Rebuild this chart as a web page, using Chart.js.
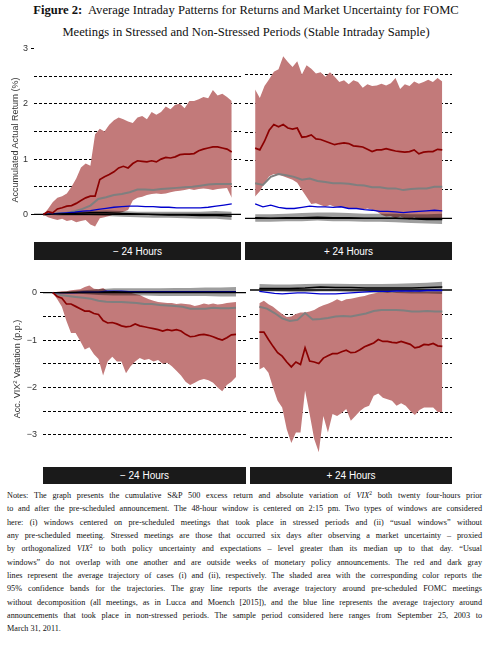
<!DOCTYPE html>
<html><head><meta charset="utf-8">
<script src="https://cdn.jsdelivr.net/npm/chart.js@4"></script>
<style>
html,body{margin:0;padding:0;background:#fff;}
body{width:492px;height:652px;position:relative;overflow:hidden;}
canvas{position:absolute;}
#title{position:absolute;left:0;top:-1px;width:492px;text-align:center;font-family:"Liberation Serif",serif;font-size:12.6px;line-height:22px;color:#111;}
.strip{position:absolute;background:#1a1a1a;color:#fff;font-family:"Liberation Sans",Arial,sans-serif;font-size:10px;display:flex;align-items:center;justify-content:center;}
.ytitle{position:absolute;font-family:"Liberation Sans",Arial,sans-serif;font-size:9px;color:#333;white-space:nowrap;transform:translate(-50%,-50%) rotate(-90deg);}
#notes{position:absolute;left:7px;top:489px;width:475px;font-family:"Liberation Serif",serif;font-size:8.2px;line-height:13.33px;height:13.33px;color:#111;}
#notes div{height:13.33px;text-align:justify;text-align-last:justify;white-space:nowrap;}
#notes div.last{text-align-last:left;}
.sq{font-size:5.5px;line-height:0;position:relative;top:-3px;vertical-align:baseline;}
</style>
</head><body>
<div id="title"><b>Figure 2:</b>&nbsp; Average Intraday Patterns for Returns and Market Uncertainty for FOMC<br>Meetings in Stressed and Non-Stressed Periods (Stable Intraday Sample)</div>

<canvas id="cUL" width="241" height="200" style="left:0;top:40px"></canvas>
<canvas id="cUR" width="207" height="200" style="left:245px;top:40px"></canvas>
<canvas id="cLL" width="246" height="197" style="left:0;top:270px"></canvas>
<canvas id="cLR" width="202" height="197" style="left:250px;top:270px"></canvas>

<div class="ytitle" style="left:15px;top:140px">Accumulated Actual Return (%)</div>
<div class="ytitle" style="left:17px;top:369px">Acc. VIX<span class="sq" style="font-size:6px">2</span> Variation (p.p.)</div>

<div class="strip" style="left:34px;top:242px;width:207px;height:18px">− 24 Hours</div>
<div class="strip" style="left:245px;top:242px;width:207px;height:18px">+ 24 Hours</div>
<div class="strip" style="left:43px;top:467px;width:203px;height:17px">− 24 Hours</div>
<div class="strip" style="left:250px;top:467px;width:202px;height:17px">+ 24 Hours</div>

<div id="notes">
<div>Notes: The graph presents the cumulative S&amp;P 500 excess return and absolute variation of <i>VIX</i><span class="sq">2</span> both twenty four-hours prior</div>
<div>to and after the pre-scheduled announcement. The 48-hour window is centered on 2:15 pm. Two types of windows are considered</div>
<div>here: (i) windows centered on pre-scheduled meetings that took place in stressed periods and (ii) “usual windows” without</div>
<div>any pre-scheduled meeting. Stressed meetings are those that occurred six days after observing a market uncertainty – proxied</div>
<div>by orthogonalized <i>VIX</i><span class="sq">2</span> to both policy uncertainty and expectations – level greater than its median up to that day. “Usual</div>
<div>windows” do not overlap with one another and are outside weeks of monetary policy announcements. The red and dark gray</div>
<div>lines represent the average trajectory of cases (i) and (ii), respectively. The shaded area with the corresponding color reports the</div>
<div>95% confidence bands for the trajectories. The gray line reports the average trajectory around pre-scheduled FOMC meetings</div>
<div>without decomposition (all meetings, as in Lucca and Moench [2015]), and the blue line represents the average trajectory around</div>
<div>announcements that took place in non-stressed periods. The sample period considered here ranges from September 25, 2003 to</div>
<div class="last">March 31, 2011.</div>
</div>

<script>
// ---------- x grids (hours relative to announcement) ----------
const hoursFinePre  = [-24,-23.4,-22.8,-22.2,-21.6,-21,-20.4,-19.8,-19.2,-18.6,-18,-17.4,-16.8,-16.2,-15.6,-15,-14.4,-13.8,-13.2,-12.6,-12,-11.4,-10.8,-10.2,-9.6,-9,-8.4,-7.8,-7.2,-6.6,-6,-5.4,-4.8,-4.2,-3.6,-3,-2.4,-1.8,-1.2,-0.6,0];
const hoursFinePost = [0,0.6,1.2,1.8,2.4,3,3.6,4.2,4.8,5.4,6,6.6,7.2,7.8,8.4,9,9.6,10.2,10.8,11.4,12,12.6,13.2,13.8,14.4,15,15.6,16.2,16.8,17.4,18,18.6,19.2,19.8,20.4,21,21.6,22.2,22.8,23.4,24];
const hoursMidPre   = [-24,-23,-22,-21,-20,-19,-18,-17,-16,-15,-14,-13,-12,-11,-10,-9,-8,-7,-6,-5,-4,-3,-2,-1,0];
const hoursMidPost  = [0,1,2,3,4,5,6,7,8,9,10,11,12,13,14,15,16,17,18,19,20,21,22,23,24];
const hoursCoarsePre  = [-24,-22,-20,-18,-16,-14,-12,-10,-8,-6,-4,-2,0];
const hoursCoarsePost = [0,2,4,6,8,10,12,14,16,18,20,22,24];

// ---------- Accumulated actual return (%) ----------
const retPreRed   = [0,0.05,0.03,0.10,0.12,0.15,0.16,0.20,0.25,0.30,0.33,0.33,0.63,0.68,0.72,0.77,0.84,0.87,0.84,0.92,0.97,0.96,0.95,0.97,0.95,1.00,1.03,1.02,1.04,1.08,1.09,1.09,1.10,1.15,1.18,1.20,1.22,1.22,1.20,1.18,1.13];
const retPreRedHi = [0,0.10,0.22,0.30,0.33,0.38,0.50,0.65,0.85,0.92,0.88,1.45,1.55,1.50,1.62,1.70,1.75,1.72,1.68,1.65,1.75,1.78,1.72,1.85,1.80,1.85,1.95,1.90,1.98,2.00,1.92,2.05,2.05,2.08,2.12,2.10,2.25,2.15,2.18,2.12,2.05];
const retPreRedLo = [0,-0.05,-0.08,-0.10,-0.08,-0.12,-0.10,-0.14,-0.12,-0.10,-0.18,-0.22,-0.07,-0.05,-0.03,0.00,0.02,0.05,0.08,0.25,0.30,0.32,0.35,0.37,0.38,0.37,0.38,0.40,0.42,0.43,0.44,0.46,0.44,0.46,0.47,0.46,0.44,0.46,0.47,0.48,0.30];
const retPreGray  = [0,0.01,0.02,0.03,0.06,0.10,0.16,0.28,0.31,0.35,0.37,0.40,0.45,0.45,0.44,0.46,0.47,0.48,0.49,0.50,0.52,0.54,0.55,0.55,0.55];
const retPreBlue  = [0,0.01,0.02,0.03,0.04,0.06,0.07,0.09,0.11,0.13,0.14,0.15,0.15,0.14,0.14,0.13,0.13,0.12,0.12,0.12,0.12,0.13,0.15,0.17,0.19];
const retPreDark   = [0,0.01,0.02,0.03,0.03,0.02,0.01,0,-0.01,-0.01,-0.02,-0.02,-0.03];
const retPreDarkHi = [0,0.03,0.05,0.06,0.07,0.06,0.05,0.05,0.05,0.05,0.05,0.06,0.05];
const retPreDarkLo = [0,-0.02,-0.02,-0.02,-0.03,-0.04,-0.05,-0.06,-0.06,-0.07,-0.08,-0.08,-0.10];

const retPostRed   = [1.22,1.19,1.34,1.53,1.63,1.59,1.63,1.57,1.55,1.57,1.41,1.42,1.45,1.38,1.37,1.34,1.31,1.28,1.30,1.31,1.30,1.26,1.25,1.24,1.20,1.16,1.19,1.19,1.21,1.19,1.17,1.16,1.15,1.16,1.19,1.12,1.15,1.16,1.16,1.20,1.19];
const retPostRedHi = [2.24,2.09,2.30,2.42,2.55,2.59,2.82,2.72,2.63,2.73,2.50,2.66,2.60,2.52,2.54,2.46,2.54,2.46,2.37,2.40,2.33,2.40,2.37,2.27,2.33,2.30,2.31,2.34,2.31,2.35,2.44,2.25,2.33,2.30,2.38,2.34,2.37,2.41,2.37,2.44,2.38];
const retPostRedLo = [0.38,0.47,0.61,0.73,0.77,0.76,0.73,0.70,0.67,0.62,0.49,0.37,0.25,0.26,0.23,0.20,0.23,0.20,0.20,0.19,0.17,0.17,0.16,0.15,0.17,0.15,0.12,0.06,0.03,0.04,0.00,0.03,0.00,-0.02,0.02,-0.02,0.00,-0.03,0.00,-0.02,-0.03];
const retPostGray  = [0.61,0.58,0.72,0.77,0.75,0.72,0.67,0.69,0.65,0.63,0.61,0.61,0.60,0.58,0.57,0.54,0.54,0.52,0.52,0.49,0.51,0.52,0.52,0.55,0.55];
const retPostBlue  = [0.25,0.20,0.23,0.19,0.17,0.17,0.19,0.21,0.20,0.20,0.19,0.20,0.17,0.17,0.15,0.14,0.12,0.12,0.11,0.10,0.11,0.12,0.13,0.14,0.13];
const retPostDark   = [0.01,0,0.01,0.01,0.02,0.01,0.01,0,0,0,-0.01,-0.02,-0.02];
const retPostDarkHi = [0.07,0.07,0.08,0.09,0.10,0.10,0.09,0.08,0.08,0.08,0.07,0.07,0.08];
const retPostDarkLo = [-0.06,-0.06,-0.05,-0.05,-0.04,-0.05,-0.05,-0.06,-0.06,-0.07,-0.08,-0.09,-0.10];

// ---------- Accumulated VIX^2 variation (p.p.) ----------
const vixPreRed   = [0,-0.08,-0.12,-0.24,-0.24,-0.29,-0.34,-0.39,-0.39,-0.44,-0.46,-0.59,-0.64,-0.63,-0.66,-0.70,-0.72,-0.71,-0.66,-0.70,-0.72,-0.74,-0.76,-0.78,-0.81,-0.78,-0.80,-0.78,-0.81,-0.88,-0.93,-0.92,-0.89,-0.88,-0.90,-0.93,-0.97,-1.00,-0.95,-0.89,-0.88];
const vixPreRedHi = [0,0.02,0.03,0.03,0.05,0.06,0.07,0.12,0.15,0.08,0.07,0.10,0.03,0.02,0.00,0.01,-0.01,0.00,-0.03,-0.05,-0.10,-0.14,-0.17,-0.20,-0.21,-0.22,-0.22,-0.24,-0.23,-0.24,-0.25,-0.28,-0.26,-0.23,-0.25,-0.23,-0.25,-0.24,-0.22,-0.21,-0.20];
const vixPreRedLo = [0,-0.14,-0.30,-0.60,-0.85,-0.85,-1.02,-1.20,-1.15,-1.30,-1.40,-1.75,-1.45,-1.35,-1.45,-1.45,-1.70,-1.55,-1.45,-1.38,-1.42,-1.40,-1.45,-1.42,-1.50,-1.48,-1.55,-1.65,-1.75,-1.88,-1.95,-1.90,-1.85,-1.82,-1.85,-1.90,-2.00,-2.08,-1.95,-1.88,-1.78];
const vixPreGray  = [0,-0.05,-0.07,-0.09,-0.11,-0.13,-0.17,-0.19,-0.20,-0.20,-0.21,-0.22,-0.24,-0.24,-0.26,-0.27,-0.28,-0.30,-0.34,-0.34,-0.34,-0.32,-0.33,-0.33,-0.32];
const vixPreBlue  = [0,0,0,0,0.01,0.01,0.01,0.03,0.03,0.03,0.02,0.02,0.02,0.02,0.02,0.02,0.02,0.02,0.02,0.02,0.02,0.02,0.02,0.02,0.02];
const vixPreDark   = [0,0,0.01,0.01,0.02,0.01,0.01,0.01,0.01,0.01,0.01,0.01,0.01];
const vixPreDarkHi = [0,0.03,0.05,0.07,0.09,0.09,0.09,0.09,0.10,0.10,0.11,0.11,0.12];
const vixPreDarkLo = [0,-0.02,-0.03,-0.05,-0.06,-0.06,-0.06,-0.07,-0.07,-0.07,-0.07,-0.08,-0.08];

const vixPostRed   = [-0.86,-0.86,-1.01,-1.15,-1.28,-1.35,-1.47,-1.57,-1.47,-1.52,-1.18,-1.45,-1.47,-1.50,-1.39,-1.34,-1.30,-1.30,-1.26,-1.23,-1.28,-1.27,-1.22,-1.16,-1.12,-1.08,-1.01,-1.05,-1.05,-1.07,-1.08,-1.05,-1.08,-1.11,-1.18,-1.16,-1.11,-1.12,-1.09,-1.14,-1.15];
const vixPostRedHi = [-0.27,-0.22,-0.29,-0.34,-0.42,-0.49,-0.55,-0.54,-0.49,-0.46,-0.46,-0.44,-0.41,-0.35,-0.31,-0.28,-0.24,-0.19,-0.23,-0.19,-0.18,-0.16,-0.14,-0.12,-0.09,-0.07,-0.05,-0.05,-0.04,-0.05,-0.04,-0.03,-0.04,-0.03,-0.04,-0.03,-0.03,-0.03,-0.03,-0.03,-0.03];
const vixPostRedLo = [-1.62,-1.57,-1.69,-1.99,-2.26,-2.40,-2.84,-3.12,-2.91,-2.91,-2.05,-2.53,-3.04,-3.31,-2.57,-2.91,-2.53,-2.57,-2.51,-2.43,-2.67,-2.57,-2.47,-2.40,-2.36,-2.16,-2.11,-2.20,-2.23,-2.26,-2.36,-2.31,-2.36,-2.47,-2.55,-2.45,-2.40,-2.40,-2.40,-2.49,-2.49];
const vixPostGray  = [-0.34,-0.38,-0.47,-0.58,-0.63,-0.61,-0.47,-0.60,-0.59,-0.57,-0.54,-0.53,-0.54,-0.51,-0.48,-0.43,-0.41,-0.41,-0.41,-0.42,-0.44,-0.44,-0.43,-0.44,-0.44];
const vixPostBlue  = [-0.03,-0.05,-0.07,-0.08,-0.07,-0.06,-0.06,-0.07,-0.08,-0.08,-0.08,-0.07,-0.06,-0.05,-0.04,-0.03,-0.03,-0.03,-0.02,-0.02,-0.02,-0.02,-0.01,-0.01,-0.01];
const vixPostDark   = [0.03,0.03,0.03,0.04,0.06,0.05,0.05,0.04,0.04,0.04,0.04,0.05,0.06];
const vixPostDarkHi = [0.12,0.11,0.11,0.12,0.13,0.13,0.12,0.12,0.12,0.13,0.14,0.15,0.17];
const vixPostDarkLo = [-0.03,-0.03,-0.04,-0.04,-0.03,-0.03,-0.04,-0.05,-0.06,-0.06,-0.07,-0.07,-0.08];

// ---------- axis ticks ----------
const retTickValues = [0,1,2,3];
const retTickLabels = ['0','1','2','3'];
const retGridValues = [0.5,1,1.5,2,2.5];
const vixTickValues = [0,-1,-2,-3];
const vixTickLabels = ['0','−1','−2','−3'];
const vixGridValues = [-0.5,-1,-1.5,-2,-2.5,-3];

// ---------- helpers ----------
const RED='#8b0000', REDFILL='rgb(194,122,122)', GRAY='#7f7f7f', BLUE='#0000cd', DARKBAND='rgba(0,0,0,0.38)';
const pts = (xs, ys) => ys.map((y, i) => ({x: xs[i], y}));
const line = (data, color, w) => ({data, borderColor: color, borderWidth: w, pointRadius: 0, fill: false, tension: 0});
const edge = (data) => ({data, borderWidth: 0, borderColor: 'transparent', pointRadius: 0, fill: false});

const zeroLine = {
  id: 'zeroLine',
  beforeDatasetsDraw(chart) {
    const {ctx, chartArea: a, scales: {y}} = chart;
    const py = y.getPixelForValue(0);
    ctx.save();
    ctx.strokeStyle = '#000'; ctx.lineWidth = 1.3;
    ctx.beginPath(); ctx.moveTo(a.left, py); ctx.lineTo(a.right, py); ctx.stroke();
    ctx.restore();
  }
};

function panel(id, o) {
  const ds = [
    line(pts(o.fine, o.red), RED, 1.7),
    line(pts(o.coarse, o.dark), '#000', 1.4),
    line(pts(o.mid, o.blue), BLUE, 1.3),
    line(pts(o.mid, o.gray), GRAY, 2),
    edge(pts(o.coarse, o.darkHi)),
    Object.assign(edge(pts(o.coarse, o.darkLo)), {fill: {target: 4}, backgroundColor: DARKBAND}),
    edge(pts(o.fine, o.redHi)),
    Object.assign(edge(pts(o.fine, o.redLo)), {fill: {target: 6}, backgroundColor: REDFILL})
  ];
  const allTicks = Array.from(new Set(o.tickValues.concat(o.gridValues)));
  new Chart(document.getElementById(id), {
    type: 'line',
    data: {datasets: ds},
    options: {
      responsive: false, animation: false, devicePixelRatio: 1,
      layout: {padding: {top: o.padTop, bottom: o.padBottom, left: 0, right: 0}},
      plugins: {legend: {display: false}, tooltip: {enabled: false}, filler: {drawTime: 'beforeDatasetsDraw'}},
      scales: {
        x: {type: 'linear', min: o.xmin, max: o.xmax, display: false},
        y: {
          type: 'linear', min: o.ymin, max: o.ymax,
          afterBuildTicks: s => { s.ticks = allTicks.map(v => ({value: v})); },
          afterFit: s => { s.width = o.axisW; },
          border: {display: false, dash: [3, 2]},
          grid: {
            color: c => o.gridValues.includes(c.tick.value) ? '#000' : 'rgba(0,0,0,0)',
            lineWidth: 1,
            drawTicks: o.showLabels,
            tickLength: 3,
            tickColor: c => (c.tick.value === 3 || c.tick.value === 0) ? '#000' : 'rgba(0,0,0,0)'
          },
          ticks: {
            display: o.showLabels, padding: 3, color: '#333',
            font: {family: 'Liberation Sans', size: 9},
            callback: v => { const k = o.tickValues.indexOf(v); return k >= 0 ? o.tickLabels[k] : ''; }
          }
        }
      }
    },
    plugins: [zeroLine]
  });
}

panel('cUL', {fine: hoursFinePre, mid: hoursMidPre, coarse: hoursCoarsePre,
  red: retPreRed, redHi: retPreRedHi, redLo: retPreRedLo, gray: retPreGray, blue: retPreBlue,
  dark: retPreDark, darkHi: retPreDarkHi, darkLo: retPreDarkLo,
  xmin: -25.18, xmax: 1.18, ymin: -0.31, ymax: 3, padTop: 5.8, padBottom: 3.9, axisW: 34, showLabels: true,
  tickValues: retTickValues, tickLabels: retTickLabels, gridValues: retGridValues});
panel('cUR', {fine: hoursFinePost, mid: hoursMidPost, coarse: hoursCoarsePost,
  red: retPostRed, redHi: retPostRedHi, redLo: retPostRedLo, gray: retPostGray, blue: retPostBlue,
  dark: retPostDark, darkHi: retPostDarkHi, darkLo: retPostDarkLo,
  xmin: -1.3, xmax: 25.25, ymin: -0.31, ymax: 3, padTop: 5.8, padBottom: 3.9, axisW: 0, showLabels: false,
  tickValues: retTickValues, tickLabels: retTickLabels, gridValues: retGridValues});
panel('cLL', {fine: hoursFinePre, mid: hoursMidPre, coarse: hoursCoarsePre,
  red: vixPreRed, redHi: vixPreRedHi, redLo: vixPreRedLo, gray: vixPreGray, blue: vixPreBlue,
  dark: vixPreDark, darkHi: vixPreDarkHi, darkLo: vixPreDarkLo,
  xmin: -25.27, xmax: 1.31, ymin: -3.5, ymax: 0.3, padTop: 5.3, padBottom: 5.5, axisW: 43, showLabels: true,
  tickValues: vixTickValues, tickLabels: vixTickLabels, gridValues: vixGridValues});
panel('cLR', {fine: hoursFinePost, mid: hoursMidPost, coarse: hoursCoarsePost,
  red: vixPostRed, redHi: vixPostRedHi, redLo: vixPostRedLo, gray: vixPostGray, blue: vixPostBlue,
  dark: vixPostDark, darkHi: vixPostDarkHi, darkLo: vixPostDarkLo,
  xmin: -1.22, xmax: 25.27, ymin: -3.5, ymax: 0.3, padTop: 5.3, padBottom: 5.5, axisW: 0, showLabels: false,
  tickValues: vixTickValues, tickLabels: vixTickLabels, gridValues: vixGridValues});
</script>
</body></html>
